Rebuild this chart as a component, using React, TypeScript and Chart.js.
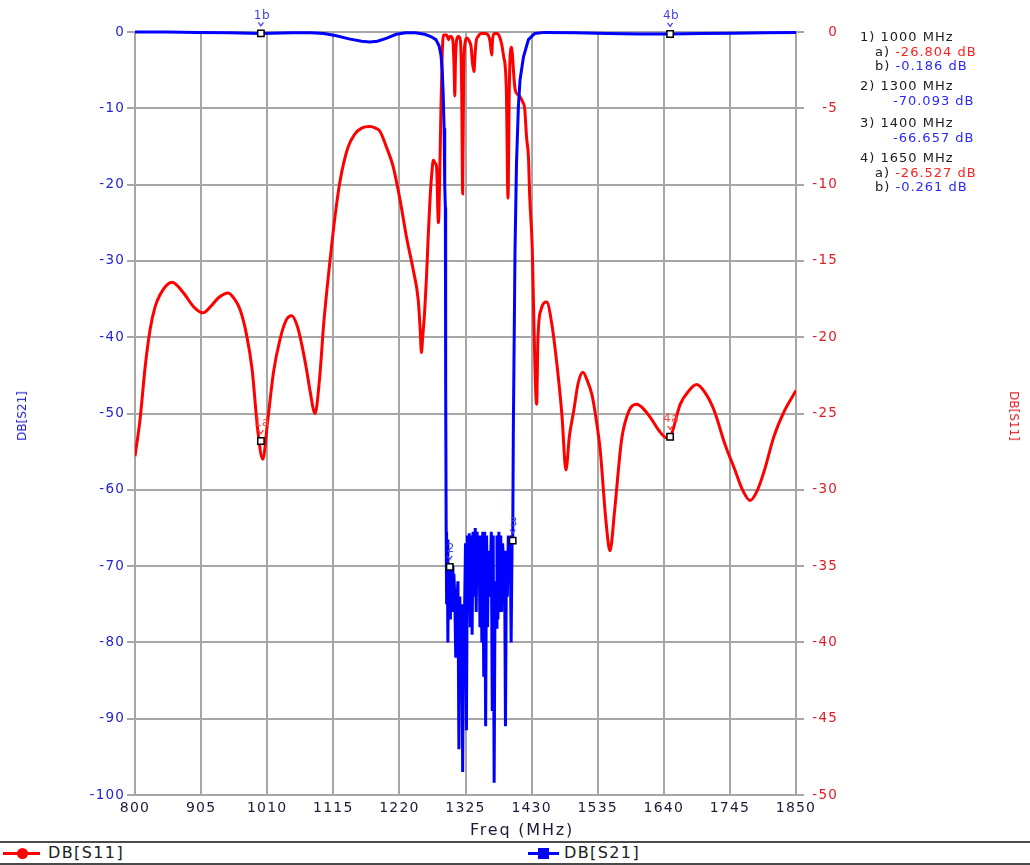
import React, { useEffect, useRef } from 'react';
import { Chart, registerables } from 'chart.js';

Chart.register(...registerables);

// ---------- DATA ----------
const X_TICKS = [800, 905, 1010, 1115, 1220, 1325, 1430, 1535, 1640, 1745, 1850];
const Y_LEFT_TICKS = [0, -10, -20, -30, -40, -50, -60, -70, -80, -90, -100];
const Y_RIGHT_TICKS = [0, -5, -10, -15, -20, -25, -30, -35, -40, -45, -50];

const S11_FREQ = [
  800, 808, 816, 824, 832, 840, 850, 859, 869, 879, 893, 908, 920, 933, 948, 958, 967, 977, 986, 995,
  1003, 1011, 1020, 1030, 1040, 1049, 1058, 1065, 1072, 1078, 1086, 1093, 1100, 1110, 1118, 1126, 1138, 1149, 1160, 1173,
  1182, 1189, 1200, 1210, 1221, 1232, 1242, 1250, 1253, 1255, 1257, 1260, 1263, 1266, 1268.6, 1271, 1274, 1277, 1279, 1282,
  1284, 1286, 1288, 1290, 1295, 1298, 1300, 1302, 1305, 1307, 1308, 1309, 1311, 1314, 1317, 1319, 1320.5, 1322, 1324, 1327,
  1331, 1334, 1336, 1338.5, 1340, 1342, 1345, 1350, 1356, 1361, 1364, 1366.6, 1368, 1371, 1375, 1379, 1382.5, 1386, 1388, 1390,
  1392.5, 1394.5, 1396, 1398.4, 1400, 1402, 1404, 1408, 1411, 1416, 1419, 1422, 1425, 1427, 1431, 1433, 1435.5, 1438, 1440, 1445,
  1454, 1462, 1470, 1478, 1484.6, 1490, 1497, 1504, 1511.6, 1518, 1526, 1533, 1539, 1548, 1554.5, 1562, 1573, 1585, 1597, 1610,
  1621, 1632, 1645, 1650, 1666, 1680, 1692, 1705, 1720, 1737, 1753, 1765, 1777, 1789, 1800, 1815, 1832, 1850,
];
const S11_DB = [
  -27.8, -25.4, -22.0, -19.5, -18.0, -17.2, -16.6, -16.4, -16.7, -17.2, -18.0, -18.4, -18.0, -17.4, -17.1, -17.5, -18.2, -19.8, -22.1, -26.1,
  -28.0, -25.4, -22.3, -20.2, -18.9, -18.6, -19.3, -20.5, -22.0, -23.5, -25.0, -22.8, -19.0, -14.9, -12.0, -9.7, -7.6, -6.7, -6.3, -6.2,
  -6.3, -6.5, -7.6, -8.8, -11.0, -13.6, -15.6, -17.6, -19.5, -21.0, -20.0, -18.4, -16.1, -13.2, -11.0, -9.5, -8.4, -8.6, -8.8, -12.5,
  -9.5, -5.0, -1.5, -0.2, -0.2, -0.5, -0.3, -0.3, -0.6, -2.5, -4.2, -2.0, -0.5, -0.3, -0.6, -4.0, -10.6, -3.0, -0.8, -0.4,
  -0.6, -1.0, -2.0, -2.6, -1.6, -0.6, -0.3, -0.1, -0.1, -0.2, -0.6, -1.5, -0.5, -0.1, -0.1, -0.3, -0.8, -1.7, -2.2, -4.0,
  -10.9, -4.0, -1.5, -1.0, -1.8, -3.0, -3.8, -4.1, -4.2, -4.6, -5.0, -6.9, -8.2, -10.8, -14.1, -17.8, -22.3, -24.4, -20.2, -18.2,
  -17.7, -19.1, -21.7, -25.0, -28.7, -26.5, -24.8, -23.0, -22.3, -22.8, -23.8, -25.5, -27.4, -32.0, -34.0, -31.3, -26.7, -24.8, -24.4, -24.8,
  -25.4, -26.1, -26.6, -26.527, -24.4, -23.5, -23.1, -23.6, -24.8, -27.0, -28.7, -30.0, -30.7, -30.0, -28.7, -26.5, -24.8, -23.5,
];

const S21_FREQ = [
  800, 850, 900, 950, 1000, 1050, 1080, 1100, 1120, 1140, 1160, 1173, 1185, 1200, 1215, 1230, 1245, 1260, 1270, 1278,
  1283, 1286, 1288, 1289.5, 1291, 1292, 1293, 1293.5, 1294.3, 1295, 1296, 1297, 1298, 1299.6, 1301, 1302.5, 1304, 1305, 1306.5, 1308,
  1309.5, 1311, 1313, 1314.5, 1316, 1317.5, 1319, 1320.5, 1322, 1323.5, 1325, 1326.5, 1328, 1330, 1331, 1332.5, 1334, 1335.5, 1337, 1339,
  1340.5, 1342, 1343.5, 1345, 1346.5, 1348, 1349.5, 1351, 1352.5, 1354, 1355.5, 1357, 1358.5, 1360, 1361.5, 1363, 1364.5, 1366, 1367.5, 1369,
  1370.5, 1372, 1373.5, 1375, 1376.5, 1378, 1379.5, 1381, 1382.5, 1384, 1385.5, 1387, 1388.5, 1390, 1391.5, 1393, 1394.5, 1396, 1397.5, 1399,
  1400, 1401, 1403.6, 1406, 1409, 1411.6, 1417, 1425, 1435, 1450, 1500, 1550, 1600, 1650, 1700, 1750, 1800, 1850,
];
const S21_DB = [
  0, 0, -0.05, -0.1, -0.186, -0.1, -0.1, -0.2, -0.5, -0.9, -1.2, -1.3, -1.2, -0.8, -0.3, -0.1, -0.1, -0.3, -0.6, -1.0,
  -1.8, -3.0, -5.0, -8.0, -12.6, -20, -23, -46, -65.5, -75, -66.5, -80, -70, -70.093, -77, -70, -70, -76, -71, -74,
  -82, -75, -72, -94, -74, -86, -75, -97, -77, -76, -67, -91.5, -66, -72, -65.7, -78, -66, -79, -65.5, -74,
  -65, -76, -65.5, -72, -66, -78, -66, -80, -65.5, -84.5, -65.5, -91, -66, -78, -68, -74, -71, -65.5, -89, -66,
  -98.4, -72, -78, -66, -77, -65.5, -76, -66, -76, -67, -70, -68, -91, -68, -74, -66, -71, -66, -80, -66.7,
  -66.657, -52, -29, -17.2, -9.8, -6.3, -3.3, -1.0, -0.2, -0.05, -0.1, -0.2, -0.25, -0.261, -0.2, -0.15, -0.1, -0.05,
];

// markers on DB[S21] (left axis)
const MK_S21_LABELS = ['1b', '2', '3', '4b'];
const MK_S21_FREQ = [1000, 1300, 1400, 1650];
const MK_S21_DB = [-0.186, -70.093, -66.657, -0.261];
// markers on DB[S11] (right axis)
const MK_S11_LABELS = ['1a', '4a'];
const MK_S11_FREQ = [1000, 1650];
const MK_S11_DB = [-26.804, -26.527];

// marker readout
const READOUT = [
  { head: '1) 1000 MHz', rows: [{ k: 'a) ', v: '-26.804 dB', c: '#ff2020' }, { k: 'b) ', v: '-0.186 dB', c: '#2a2aff' }] },
  { head: '2) 1300 MHz', rows: [{ k: '', v: '-70.093 dB', c: '#2a2aff' }] },
  { head: '3) 1400 MHz', rows: [{ k: '', v: '-66.657 dB', c: '#2a2aff' }] },
  { head: '4) 1650 MHz', rows: [{ k: 'a) ', v: '-26.527 dB', c: '#ff2020' }, { k: 'b) ', v: '-0.261 dB', c: '#2a2aff' }] },
];

const FONT = 'DejaVu Sans';
const GRID = '#a6a6a6';

const markerLabelPlugin = {
  id: 'markerLabels',
  beforeUpdate(chart: any) {
    try { chart.ctx.letterSpacing = '1.2px'; } catch (e) { /* ignore */ }
  },
  afterDatasetsDraw(chart: any) {
    const ctx = chart.ctx;
    const sets = [
      { idx: 0, labels: MK_S21_LABELS, color: '#4646e6' },
      { idx: 1, labels: MK_S11_LABELS, color: '#ff4040' },
    ];
    ctx.save();
    try { ctx.letterSpacing = '0.5px'; } catch (e) { /* ignore */ }
    ctx.font = `12px "${FONT}"`;
    ctx.textAlign = 'center';
    ctx.textBaseline = 'middle';
    sets.forEach((s) => {
      const meta = chart.getDatasetMeta(s.idx);
      meta.data.forEach((pt: any, i: number) => {
        const x = pt.x;
        const y = pt.y;
        ctx.fillStyle = s.color;
        ctx.fillText(s.labels[i], x + 1, y - 18);
        ctx.strokeStyle = s.color;
        ctx.lineWidth = 1.3;
        ctx.beginPath();
        ctx.moveTo(x - 2.5, y - 11);
        ctx.lineTo(x, y - 7.5);
        ctx.lineTo(x + 2.5, y - 11);
        ctx.stroke();
      });
    });
    ctx.restore();
  },
};

const fmt = (v: any) => String(v);

export default function App() {
  const ref = useRef<HTMLCanvasElement | null>(null);

  useEffect(() => {
    document.body.style.margin = '0';
    const canvas = ref.current;
    if (!canvas) return;
    const pts = (fs: number[], vs: number[]) => fs.map((f, i) => ({ x: f, y: vs[i] }));
    const chart = new Chart(canvas, {
      type: 'line',
      data: {
        datasets: [
          {
            label: 'S21 markers',
            data: pts(MK_S21_FREQ, MK_S21_DB),
            yAxisID: 'yL',
            showLine: false,
            pointStyle: 'rect',
            pointRadius: 4.5,
            pointBackgroundColor: '#ffffff',
            pointBorderColor: '#000000',
            pointBorderWidth: 1.5,
            clip: false,
            order: 0,
          } as any,
          {
            label: 'S11 markers',
            data: pts(MK_S11_FREQ, MK_S11_DB),
            yAxisID: 'yR',
            showLine: false,
            pointStyle: 'rect',
            pointRadius: 4.5,
            pointBackgroundColor: '#ffffff',
            pointBorderColor: '#000000',
            pointBorderWidth: 1.5,
            clip: false,
            order: 0,
          } as any,
          {
            label: 'DB[S21]',
            data: pts(S21_FREQ, S21_DB),
            yAxisID: 'yL',
            borderColor: '#0000ff',
            borderWidth: 3,
            pointRadius: 0,
            tension: 0,
            clip: false,
            order: 1,
          } as any,
          {
            label: 'DB[S11]',
            data: pts(S11_FREQ, S11_DB),
            yAxisID: 'yR',
            borderColor: '#ff0000',
            borderWidth: 3,
            pointRadius: 0,
            cubicInterpolationMode: 'monotone',
            order: 2,
          } as any,
        ],
      },
      options: {
        responsive: false,
        animation: false,
        events: [],
        layout: { padding: { left: 8, right: 192, top: 32, bottom: 2 } },
        plugins: { legend: { display: false }, tooltip: { enabled: false } },
        scales: {
          x: {
            type: 'linear',
            min: 800,
            max: 1850,
            afterBuildTicks: (s: any) => { s.ticks = X_TICKS.map((v) => ({ value: v })); },
            afterFit: (s: any) => { s.height = 43; },
            grid: { color: GRID, lineWidth: 2, drawTicks: false },
            border: { display: true, color: GRID, width: 2 },
            ticks: { color: '#1c1c3a', font: { family: FONT, size: 14 }, padding: 5, maxRotation: 0, autoSkip: false, callback: fmt },
          },
          yL: {
            type: 'linear',
            position: 'left',
            min: -100,
            max: 0,
            afterBuildTicks: (s: any) => { s.ticks = Y_LEFT_TICKS.map((v) => ({ value: v })); },
            afterFit: (s: any) => { s.width = 127; },
            grid: { color: GRID, lineWidth: 2, drawTicks: true, tickLength: 8 },
            border: { display: true, color: GRID, width: 2 },
            ticks: { color: '#2323cf', font: { family: FONT, size: 13.5 }, padding: 2, autoSkip: false, callback: fmt },
          },
          yR: {
            type: 'linear',
            position: 'right',
            min: -50,
            max: 0,
            afterBuildTicks: (s: any) => { s.ticks = Y_RIGHT_TICKS.map((v) => ({ value: v })); },
            afterFit: (s: any) => { s.width = 42; },
            grid: { color: GRID, lineWidth: 2, drawOnChartArea: false, drawTicks: true, tickLength: 8 },
            border: { display: true, color: GRID, width: 2 },
            ticks: { color: '#e01c24', font: { family: FONT, size: 13.5 }, padding: 6, crossAlign: 'far', autoSkip: false, callback: fmt },
          },
        },
      } as any,
      plugins: [markerLabelPlugin],
    });
    return () => chart.destroy();
  }, []);

  const readoutLines: { top: number; node: React.ReactNode; left: number }[] = [];
  const heads = [37, 86, 123, 158];
  READOUT.forEach((g, gi) => {
    readoutLines.push({ top: heads[gi], left: 860, node: <span style={{ color: '#202020' }}>{g.head}</span> });
    g.rows.forEach((r, ri) => {
      readoutLines.push({
        top: heads[gi] + 14.5 * (ri + 1),
        left: r.k ? 875 : 893,
        node: (
          <span>
            {r.k && <span style={{ color: '#202020' }}>{r.k}</span>}
            <span style={{ color: r.c }}>{r.v}</span>
          </span>
        ),
      });
    });
  });

  const textBase: React.CSSProperties = { fontFamily: FONT, letterSpacing: '1px', whiteSpace: 'nowrap' };

  return (
    <div style={{ position: 'relative', width: 1030, height: 865, background: '#ffffff', overflow: 'hidden' }}>
      <canvas ref={ref} width={1030} height={840} style={{ display: 'block' }} />
      {/* axis titles */}
      <div style={{ ...textBase, position: 'absolute', left: 22, top: 416, transform: 'translate(-50%,-50%) rotate(-90deg)', fontSize: 12, color: '#2020d0', letterSpacing: '0px' }}>DB[S21]</div>
      <div style={{ ...textBase, position: 'absolute', left: 1014, top: 416, transform: 'translate(-50%,-50%) rotate(90deg)', fontSize: 12, color: '#e01c24', letterSpacing: '0px' }}>DB[S11]</div>
      <div style={{ ...textBase, position: 'absolute', left: 522, top: 829, transform: 'translate(-50%,-50%)', fontSize: 16, letterSpacing: '1.8px', color: '#1c1c3a' }}>Freq (MHz)</div>
      {/* marker readout */}
      {readoutLines.map((l, i) => (
        <div key={i} style={{ ...textBase, position: 'absolute', left: l.left, top: l.top - 8, lineHeight: '16px', fontSize: 13 }}>{l.node}</div>
      ))}
      {/* legend */}
      <div style={{ position: 'absolute', left: 0, top: 841, width: 1030, height: 2, background: '#4a4a4a' }} />
      <div style={{ position: 'absolute', left: 0, top: 863, width: 1030, height: 2, background: '#4a4a4a' }} />
      <div style={{ position: 'absolute', left: 3, top: 852, width: 37, height: 3, background: '#ff0000' }} />
      <div style={{ position: 'absolute', left: 17, top: 848, width: 11, height: 11, borderRadius: '50%', background: '#ff0000' }} />
      <div style={{ ...textBase, position: 'absolute', left: 48, top: 843, lineHeight: '20px', fontSize: 16, letterSpacing: '1.4px', color: '#202020' }}>DB[S11]</div>
      <div style={{ position: 'absolute', left: 528, top: 852, width: 31, height: 3, background: '#0000ff' }} />
      <div style={{ position: 'absolute', left: 538, top: 848, width: 11, height: 11, background: '#0000ff' }} />
      <div style={{ ...textBase, position: 'absolute', left: 564, top: 843, lineHeight: '20px', fontSize: 16, letterSpacing: '1.4px', color: '#202020' }}>DB[S21]</div>
    </div>
  );
}
